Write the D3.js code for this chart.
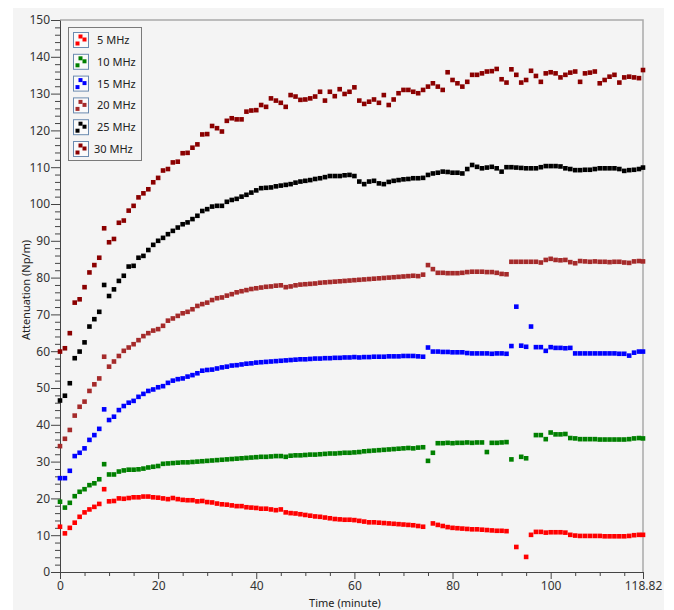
<!doctype html>
<html lang="en">
<head>
    <meta charset="utf-8"/>
    <title>Attenuation vs time</title>
    <style>
        body { margin: 0; background: #fff; }
        svg { display: block; }
    </style>
</head>
<body>
    <svg></svg>
    <script src="https://d3js.org/d3.v7.min.js"></script>
    <script>
        // sample times (minute), one reading per minute, last one at 118.82
        const times = d3.range(0, 119).concat([118.82]);

        const seriesNames = ["5 MHz", "10 MHz", "15 MHz", "20 MHz", "25 MHz", "30 MHz"];
        const seriesColors = ["#ff0000", "#008000", "#0000ff", "#a52a2a", "#000000", "#8b0000"];

        const mhz5 = [
            12.3, 10.5, 12.0, 13.4, 15.0, 16.2, 17.0, 17.7, 18.5, 22.5,
            19.2, 19.3, 20.0, 19.9, 20.1, 20.3, 20.3, 20.5, 20.5, 20.3,
            20.2, 20.0, 19.8, 20.1, 19.8, 19.6, 19.5, 19.5, 19.2, 19.3,
            19.0, 18.9, 18.6, 18.4, 18.3, 18.1, 17.9, 17.9, 17.6, 17.5,
            17.4, 17.2, 17.2, 17.0, 16.8, 17.0, 16.2, 16.0, 15.9, 15.7,
            15.5, 15.3, 15.1, 15.0, 14.8, 14.6, 14.4, 14.3, 14.2, 14.2,
            14.1, 13.9, 13.7, 13.5, 13.5, 13.4, 13.3, 13.2, 13.1, 13.0,
            12.9, 12.8, 12.7, 12.5, 12.3, null, 13.2, 12.8, 12.5, 12.2,
            12.0, 11.9, 11.8, 11.7, 11.6, 11.6, 11.5, 11.4, 11.3, 11.2,
            11.2, 11.1, null, 6.8, null, 4.1, 10.1, 10.9, 10.9, 10.7,
            10.8, 10.8, 10.8, 10.7, 10.1, 9.9, 9.8, 9.8, 9.8, 9.8,
            9.8, 9.7, 9.7, 9.7, 9.7, 9.7, 9.8, 10.0, 10.1, 10.1
        ];
        const mhz10 = [
            19.1, 17.5, 18.8, 20.6, 21.8, 22.5, 23.6, 24.1, 25.2, 29.3,
            26.5, 26.5, 27.3, 27.6, 27.8, 27.8, 27.9, 28.1, 28.4, 28.6,
            28.8, 29.4, 29.5, 29.6, 29.7, 29.8, 29.8, 29.9, 30.0, 30.1,
            30.2, 30.3, 30.4, 30.5, 30.6, 30.7, 30.8, 30.9, 31.0, 31.1,
            31.2, 31.3, 31.3, 31.4, 31.5, 31.5, 31.3, 31.6, 31.7, 31.7,
            31.8, 31.9, 31.9, 32.0, 32.1, 32.2, 32.2, 32.3, 32.4, 32.4,
            32.5, 32.6, 32.8, 32.9, 33.0, 33.1, 33.2, 33.3, 33.4, 33.5,
            33.6, 33.7, 33.6, 33.8, 33.9, 30.2, 32.4, 35.0, 35.0, 35.1,
            35.0, 35.1, 35.1, 35.2, 35.1, 35.2, 35.2, 32.6, 35.1, 35.1,
            35.2, 35.3, 30.6, null, 31.3, 30.9, null, 37.2, 37.2, 36.1,
            37.9, 37.4, 37.4, 37.5, 36.4, 36.3, 36.1, 36.1, 36.1, 36.1,
            36.0, 36.0, 36.0, 36.0, 36.0, 36.0, 36.1, 36.3, 36.4, 36.3
        ];
        const mhz15 = [
            25.5, 25.5, 27.5, 31.5, 32.4, 33.6, 35.9, 37.2, 38.9, 44.2,
            41.3, 42.2, 44.0, 45.1, 46.0, 46.5, 47.6, 48.4, 49.2, 49.6,
            50.2, 50.5, 51.4, 52.0, 52.4, 52.6, 53.1, 53.5, 54.0, 54.7,
            54.9, 55.0, 55.3, 55.6, 55.8, 56.1, 56.2, 56.4, 56.6, 56.7,
            56.9, 57.0, 57.1, 57.2, 57.3, 57.4, 57.5, 57.6, 57.7, 57.8,
            57.8, 57.9, 58.0, 58.0, 58.1, 58.1, 58.2, 58.2, 58.3, 58.3,
            58.4, 58.3, 58.4, 58.4, 58.5, 58.5, 58.5, 58.6, 58.6, 58.6,
            58.7, 58.7, 58.7, 58.6, 58.5, 61.0, 59.9, 59.9, 59.8, 59.8,
            59.7, 59.7, 59.7, 59.5, 59.4, 59.4, 59.4, 59.4, 59.3, 59.4,
            59.4, 59.3, 61.4, 72.1, 61.5, 61.2, 66.7, 61.1, 61.1, 60.1,
            61.1, 60.9, 60.9, 60.8, 60.9, 59.4, 59.4, 59.4, 59.4, 59.4,
            59.4, 59.4, 59.4, 59.4, 59.3, 59.3, 58.8, 59.6, 59.9, 59.9
        ];
        const mhz20 = [
            34.2, 36.2, 38.6, 42.5, 44.9, 46.3, 49.2, 51.0, 52.6, 58.5,
            55.8, 57.2, 58.7, 60.1, 61.0, 61.9, 63.0, 64.1, 64.9, 65.6,
            66.0, 66.9, 68.3, 68.9, 69.6, 70.3, 70.7, 71.4, 72.3, 72.8,
            73.2, 73.9, 74.4, 74.6, 75.1, 75.5, 76.0, 76.3, 76.6, 76.9,
            77.1, 77.3, 77.5, 77.6, 77.8, 77.9, 77.4, 77.6, 77.9, 78.1,
            78.2, 78.3, 78.4, 78.6, 78.7, 78.8, 78.9, 79.0, 79.1, 79.2,
            79.3, 79.4, 79.5, 79.6, 79.7, 79.8, 79.9, 80.0, 80.1, 80.2,
            80.3, 80.4, 80.5, 80.4, 80.8, 83.4, 82.3, 81.3, 81.3, 81.2,
            81.2, 81.2, 81.3, 81.5, 81.6, 81.6, 81.6, 81.5, 81.5, 81.3,
            81.0, 80.9, 84.3, 84.3, 84.3, 84.3, 84.3, 84.3, 84.1, 84.8,
            85.1, 84.8, 84.7, 84.8, 84.2, 83.9, 84.5, 84.4, 84.3, 84.4,
            84.3, 84.3, 84.2, 84.3, 84.3, 84.1, 84.0, 84.4, 84.5, 84.4
        ];
        const mhz25 = [
            46.6, 47.9, 51.3, 58.1, 59.9, 62.4, 66.7, 68.7, 70.7, 78.0,
            75.0, 76.8, 79.1, 80.5, 83.0, 83.2, 85.4, 85.9, 87.5, 88.9,
            90.0, 90.8, 91.8, 92.7, 93.6, 94.5, 95.0, 95.9, 96.8, 98.1,
            98.6, 99.3, 99.5, 99.5, 100.6, 101.1, 101.4, 102.0, 102.5, 103.1,
            103.7, 104.3, 104.4, 104.5, 104.8, 105.0, 105.2, 105.4, 105.8, 106.1,
            106.3, 106.5, 106.8, 107.0, 107.3, 107.6, 107.6, 107.6, 107.8, 107.9,
            107.6, 106.1, 105.4, 106.1, 106.3, 105.6, 105.4, 106.0, 106.3, 106.5,
            106.7, 106.8, 107.0, 107.0, 107.1, 107.9, 108.3, 108.5, 108.8, 108.7,
            108.5, 108.5, 108.3, 109.5, 110.6, 110.1, 109.7, 109.9, 110.1, 109.7,
            108.8, 110.0, 110.0, 109.9, 109.8, 109.7, 109.7, 109.7, 110.0, 110.3,
            110.3, 110.3, 110.2, 109.7, 109.5, 109.2, 109.2, 109.3, 109.3, 109.5,
            109.7, 109.7, 109.7, 109.7, 109.5, 109.0, 109.2, 109.3, 109.5, 109.9
        ];
        const mhz30 = [
            59.9, 60.8, 64.9, 73.2, 74.1, 77.4, 81.4, 83.4, 85.4, 93.4,
            89.6, 90.5, 94.9, 95.5, 98.2, 99.5, 101.8, 102.9, 104.0, 105.9,
            107.1, 109.1, 109.5, 111.3, 111.5, 113.8, 113.9, 115.3, 116.2, 118.9,
            119.0, 121.2, 120.6, 119.7, 122.6, 123.3, 123.0, 123.0, 125.1, 125.4,
            125.5, 126.9, 126.4, 128.7, 128.1, 127.5, 126.4, 129.6, 129.2, 128.3,
            128.4, 128.7, 129.2, 130.5, 128.1, 130.5, 129.3, 131.2, 129.9, 130.5,
            131.7, 128.1, 127.2, 127.8, 128.4, 127.5, 129.6, 126.9, 128.4, 130.1,
            131.0, 131.0, 130.5, 130.1, 131.0, 131.9, 132.8, 131.9, 131.0, 135.8,
            133.7, 132.8, 131.9, 133.2, 135.1, 135.1, 135.5, 136.0, 136.1, 136.7,
            133.9, 133.0, 136.6, 135.1, 133.0, 133.7, 136.2, 134.8, 133.2, 135.5,
            135.8, 135.5, 134.4, 135.1, 135.7, 136.0, 133.2, 135.5, 135.7, 136.0,
            132.8, 133.7, 134.6, 135.1, 133.0, 134.4, 134.6, 134.4, 134.2, 136.4
        ];
        const seriesValues = [mhz5, mhz10, mhz15, mhz20, mhz25, mhz30];

        const xMajorTicks = [0, 20, 40, 60, 80, 100, 118.82];
        const xMinorTicks = [5, 10, 15, 25, 30, 35, 45, 50, 55, 65, 70, 75, 85, 90, 95, 105, 110, 115];
        const yMajorTicks = d3.range(0, 151, 10);
        const yMinorTicks = d3.range(0, 151, 2).filter(v => v % 10 !== 0);

        const width = 674, height = 610;
        const font = "'Segoe UI', 'Noto Sans', 'Open Sans', sans-serif";

        const svg = d3.select("svg")
            .attr("width", width)
            .attr("height", height)
            .style("font-family", font);

        // grey panel
        svg.append("rect")
            .attr("x", 13).attr("y", 8)
            .attr("width", 651).attr("height", 602)
            .attr("fill", "#f4f4f4");

        const x = d3.scaleLinear().domain([0, 118.82]).range([60, 643]);
        const y = d3.scaleLinear().domain([0, 150]).range([572, 20]);

        // top and right frame
        svg.append("path")
            .attr("d", `M${x(0)},${y(150)}H${x(118.82)}V${y(0)}`)
            .attr("fill", "none")
            .attr("stroke", "#a9a9a9")
            .attr("stroke-width", 1.5);

        // y axis
        svg.append("g")
            .attr("transform", `translate(${x(0)},0)`)
            .call(d3.axisLeft(y).tickValues(yMinorTicks).tickSize(5).tickFormat(""))
            .call(g => g.select(".domain").remove())
            .selectAll("line").attr("stroke", "#444");
        const yAxis = svg.append("g")
            .attr("transform", `translate(${x(0)},0)`)
            .call(d3.axisLeft(y).tickValues(yMajorTicks).tickSize(9).tickSizeOuter(0).tickPadding(1));
        yAxis.select(".domain").attr("stroke", "#444");
        yAxis.selectAll("line").attr("stroke", "#444");
        yAxis.selectAll("text")
            .attr("fill", "#333")
            .style("font-size", "12px")
            .style("font-family", font);

        // x axis
        svg.append("g")
            .attr("transform", `translate(0,${y(0)})`)
            .call(d3.axisBottom(x).tickValues(xMinorTicks).tickSize(4).tickFormat(""))
            .call(g => g.select(".domain").remove())
            .selectAll("line").attr("stroke", "#444");
        const xAxis = svg.append("g")
            .attr("transform", `translate(0,${y(0)})`)
            .call(d3.axisBottom(x).tickValues(xMajorTicks).tickSize(7).tickSizeOuter(0).tickPadding(2)
                .tickFormat(d => d === 118.82 ? "118.82" : d));
        xAxis.select(".domain").attr("stroke", "#444");
        xAxis.selectAll("line").attr("stroke", "#444");
        xAxis.selectAll("text")
            .attr("fill", "#333")
            .style("font-size", "12px")
            .style("font-family", font);

        // axis titles
        svg.append("text")
            .attr("x", 345).attr("y", 607)
            .attr("text-anchor", "middle")
            .attr("font-size", 11)
            .attr("fill", "#222")
            .text("Time (minute)");
        svg.append("text")
            .attr("transform", "translate(30,290) rotate(-90)")
            .attr("text-anchor", "middle")
            .attr("font-size", 11)
            .attr("fill", "#222")
            .text("Attenuation (Np/m)");

        // markers
        const s = 4.6;
        seriesValues.forEach((vals, i) => {
            const pts = times.map((t, j) => ({t: t, v: vals[j]})).filter(d => d.v !== null);
            svg.append("g")
                .attr("fill", seriesColors[i])
                .selectAll("rect")
                .data(pts)
                .join("rect")
                    .attr("x", d => x(d.t) - s / 2)
                    .attr("y", d => y(d.v) - s / 2)
                    .attr("width", s)
                    .attr("height", s);
        });

        // legend
        const legend = svg.append("g").attr("transform", "translate(68,27)");
        legend.append("rect")
            .attr("x", 0.5).attr("y", 0.5)
            .attr("width", 73).attr("height", 133)
            .attr("fill", "#f4f4f4")
            .attr("stroke", "#7a7a7a");
        const item = legend.selectAll("g.item")
            .data(seriesNames)
            .join("g")
                .attr("class", "item")
                .attr("transform", (d, i) => `translate(5,${5 + i * 21.8})`);
        item.append("rect")
            .attr("x", 0.5).attr("y", 0.5)
            .attr("width", 15).attr("height", 15)
            .attr("fill", "#fafafa")
            .attr("stroke", "#6b8bb0");
        [[5.5, 2.5], [9.5, 5.5], [2.5, 9.5]].forEach(p => {
            item.append("rect")
                .attr("x", p[0]).attr("y", p[1])
                .attr("width", 4).attr("height", 4)
                .attr("fill", (d, i) => seriesColors[i]);
        });
        item.append("text")
            .attr("x", (d, i) => i === 5 ? 21 : 24)
            .attr("y", 12)
            .attr("font-size", 11)
            .attr("fill", "#222")
            .text(d => d);
    </script>
</body>
</html>
